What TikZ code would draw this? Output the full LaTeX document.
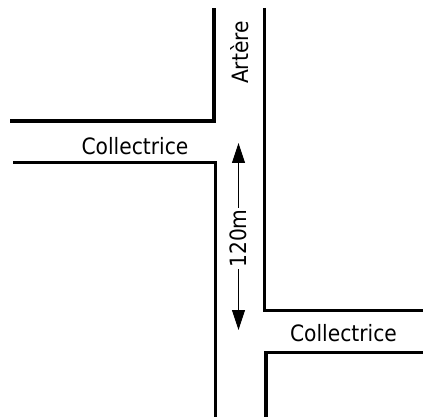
\documentclass[tikz,border=0pt]{standalone}
\usepackage{fontspec}
\setmainfont{DejaVu Sans Condensed}
\usetikzlibrary{arrows.meta}
\tikzset{
  road/.style={line width=3.3pt, line join=miter, draw=black},
  lbl/.style={font=\fontsize{22.5}{26}\selectfont, inner sep=0pt, anchor=base},
  dim/.style={line width=1pt, -{Triangle[length=20pt,width=13pt]}}
}
\begin{document}
\begin{tikzpicture}[x=1pt,y=-1pt]
\useasboundingbox (0,0) rectangle (423,417);
\begin{scope}
\clip (0,0) rectangle (423,417);
\draw[road] (10,121) -- (214,121) -- (214,8);
\draw[road] (13,162.5) -- (215.5,162.5) -- (215.5,420);
\draw[road] (264.5,8) -- (264.5,310.5) -- (426,310.5);
\draw[road] (426,352.5) -- (266,352.5) -- (266,420);
\end{scope}
\node[lbl] (c1) at (135,154) {Collectrice};
\node[lbl] (c2) at (343.5,341.7) {Collectrice};
\node[lbl, rotate=90] (art) at (248,52.5) {Artère};
\node[lbl, rotate=90, inner xsep=1.5pt] (len) at (246.7,238.5) {120m};
\coordinate (top) at (len.center |- 0,143);
\coordinate (bot) at (len.center |- 0,330);
\draw[dim] (len.east) -- (top);
\draw[dim] (len.west) -- (bot);
\end{tikzpicture}
\end{document}
